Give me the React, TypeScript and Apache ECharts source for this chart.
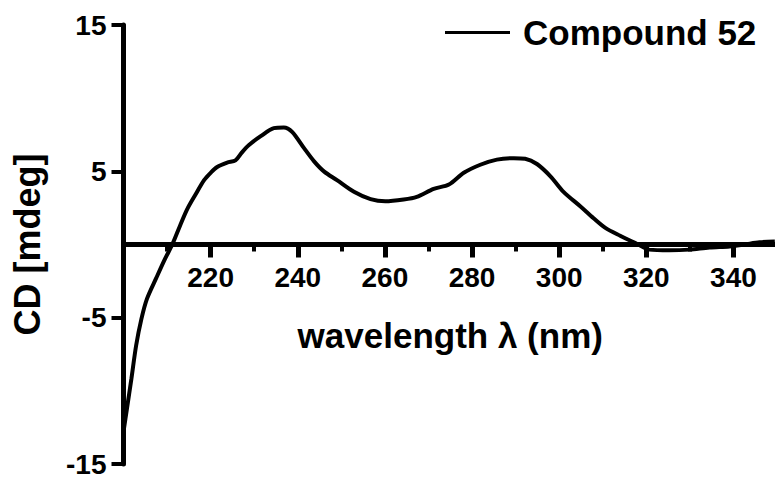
import React, { useEffect, useRef } from "react";
import * as echarts from "echarts";

const wavelength = [200, 200.8, 201.8, 202.9, 204.1, 205.4, 207.5, 209.5, 211.2, 213, 214.6, 216.5, 218.5, 220, 221.5, 223.8, 225.7, 227.2, 228.8, 231.5, 234.5, 236.8, 238.7, 241.4, 243.7, 246, 249, 252.9, 256.7, 260.1, 264.3, 267.3, 271.2, 274.7, 278.1, 281.9, 285.7, 289.6, 292.2, 294.9, 298, 301, 304.9, 307.9, 310.6, 314, 317.5, 320.7, 325.3, 329.9, 334.5, 339.1, 342.5, 346, 349.5];
const cd = [-12.8, -11.2, -9.2, -6.9, -5.1, -3.7, -2.3, -1.0, 0, 1.3, 2.4, 3.4, 4.4, 4.9, 5.3, 5.6, 5.75, 6.3, 6.8, 7.4, 7.95, 8.0, 7.7, 6.6, 5.7, 5.0, 4.4, 3.6, 3.1, 2.95, 3.07, 3.25, 3.8, 4.1, 4.9, 5.45, 5.8, 5.9, 5.86, 5.5, 4.66, 3.6, 2.6, 1.8, 1.14, 0.6, 0.1, -0.35, -0.4, -0.35, -0.2, -0.13, 0, 0.15, 0.2];

const seriesName = "Compound 52";
const xAxisName = "wavelength \u03bb (nm)";
const yAxisName = "CD [mdeg]";

const FONT = "'Liberation Sans', Arial, Helvetica, sans-serif";

const GRID_TOP = 25;
const GRID_BOTTOM = 14;
const HEIGHT = 478;
const Y_MIN = -15;
const Y_MAX = 15;

export default function App() {
  const ref = useRef<HTMLDivElement>(null);
  useEffect(() => {
    if (!ref.current) return;
    const chart = echarts.init(ref.current, null, { renderer: "svg" });
    const data = wavelength.map((w, i) => [w, cd[i]]);
    const gridH = HEIGHT - GRID_TOP - GRID_BOTTOM;
    const zeroFromBottom = ((0 - Y_MIN) / (Y_MAX - Y_MIN)) * gridH;
    chart.setOption({
      animation: false,
      backgroundColor: "#ffffff",
      grid: { left: 123.5, right: -2, top: GRID_TOP, bottom: GRID_BOTTOM, containLabel: false, outerBoundsMode: "none" },
      legend: {
        left: 445,
        top: 15,
        padding: 0,
        icon: "rect",
        itemWidth: 65,
        itemHeight: 3,
        data: [seriesName],
        textStyle: { fontFamily: FONT, fontWeight: "bold", fontSize: 35, color: "#000", padding: [0, 0, 0, 8] },
      },
      xAxis: {
        type: "value",
        min: 200,
        max: 350,
        interval: 20,
        offset: -zeroFromBottom,
        name: xAxisName,
        nameLocation: "middle",
        nameGap: 73,
        nameTextStyle: { fontFamily: FONT, fontWeight: "bold", fontSize: 35, color: "#000" },
        axisLine: { onZero: false, lineStyle: { color: "#000", width: 5 } },
        axisTick: { show: true, length: 13, lineStyle: { color: "#000", width: 5 } },
        minorTick: { show: true, splitNumber: 2, length: 7, lineStyle: { color: "#000", width: 4 } },
        splitLine: { show: false },
        axisLabel: {
          showMinLabel: false,
          showMaxLabel: false,
          margin: 19,
          fontFamily: FONT,
          fontWeight: "bold",
          fontSize: 28,
          color: "#000",
        },
      },
      yAxis: {
        type: "value",
        min: Y_MIN,
        max: Y_MAX,
        interval: 10,
        name: yAxisName,
        nameLocation: "middle",
        nameGap: 78,
        nameRotate: 90,
        nameTextStyle: { fontFamily: FONT, fontWeight: "bold", fontSize: 36, color: "#000" },
        axisLine: { show: true, onZero: false, lineStyle: { color: "#000", width: 5 } },
        axisTick: { show: true, length: 12, lineStyle: { color: "#000", width: 4 } },
        splitLine: { show: false },
        axisLabel: { margin: 17, fontFamily: FONT, fontWeight: "bold", fontSize: 28, color: "#000" },
      },
      series: [
        {
          name: seriesName,
          type: "line",
          data,
          smooth: 0.3,
          showSymbol: false,
          symbol: "none",
          clip: false,
          lineStyle: { color: "#000", width: 4 },
          itemStyle: { color: "#000" },
        },
      ],
    });
    return () => chart.dispose();
  }, []);
  return <div ref={ref} style={{ position: "fixed", left: 0, top: 0, width: 775, height: 478 }} />;
}
